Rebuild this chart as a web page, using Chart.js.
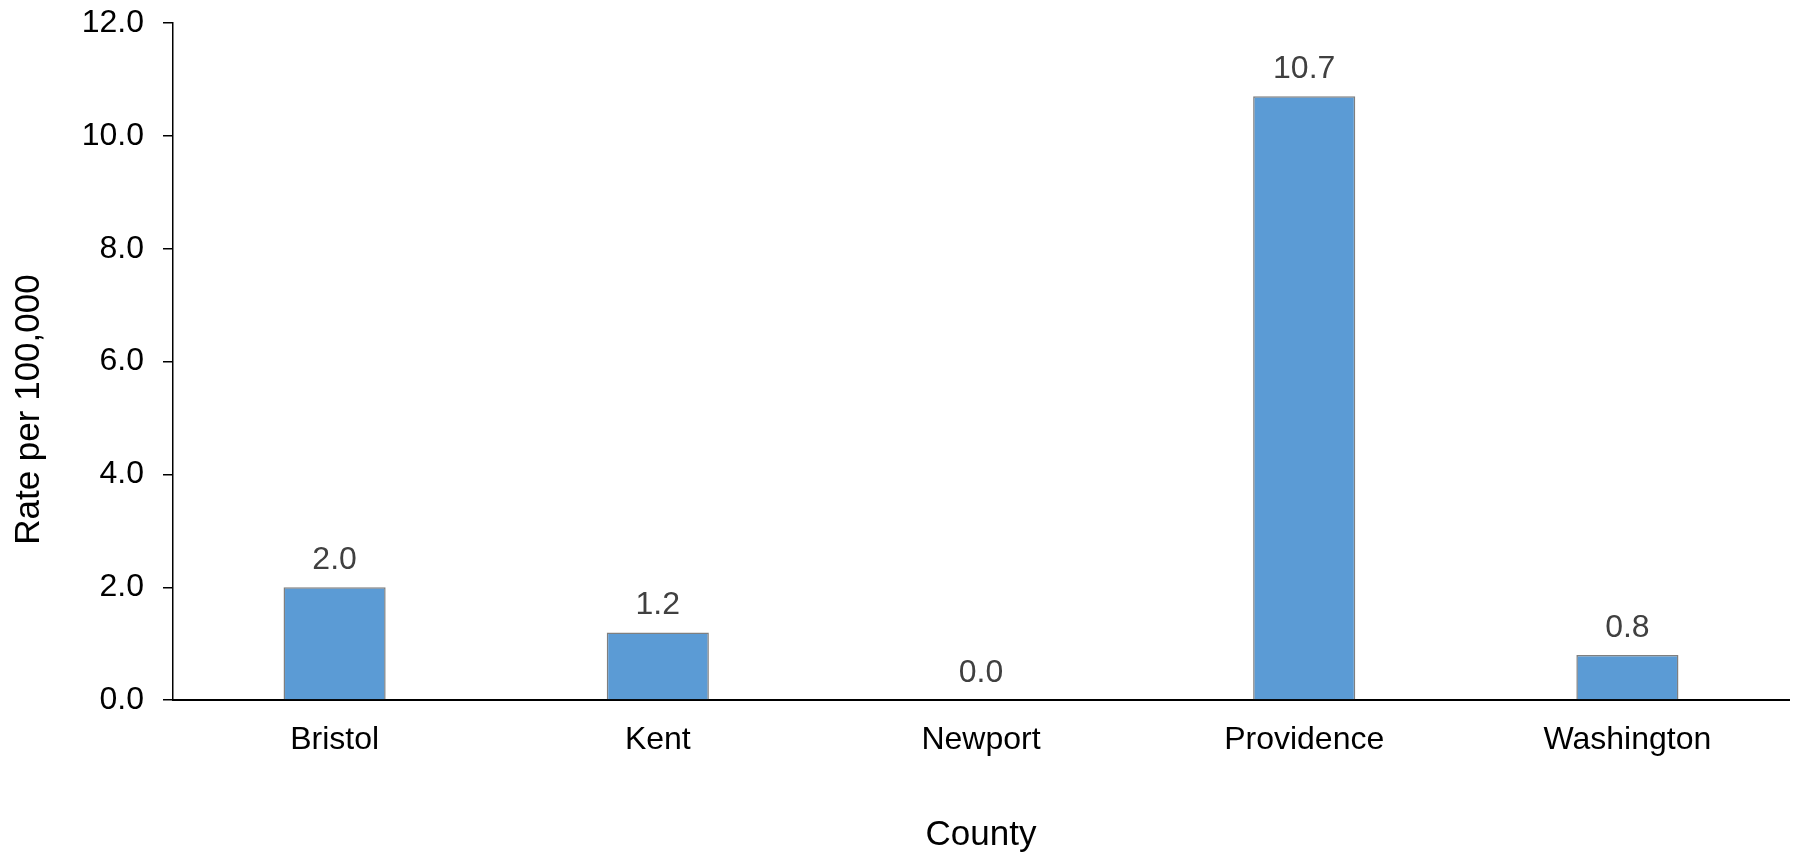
<!DOCTYPE html>
<html lang="en">
<head>
    <meta charset="UTF-8">
    <title>Rate per 100,000 by County</title>
    <script src="https://cdn.jsdelivr.net/npm/chart.js"></script>
    <style>
        body {
            margin: 0;
            padding: 0;
            background-color: #fff;
        }
        #chart {
            display: block;
        }
    </style>
</head>
<body>
    <canvas id="chart" width="1796" height="856"></canvas>

    <script>
        // Data
        const counties = ['Bristol', 'Kent', 'Newport', 'Providence', 'Washington'];
        const rates = [2.0, 1.2, 0.0, 10.7, 0.8];
        const yTicks = [0, 2, 4, 6, 8, 10, 12];

        const fontFamily = "'Liberation Sans', Arial, sans-serif";

        // Draws the value above each bar and the y axis title
        const labelsPlugin = {
            id: 'valueLabels',
            afterDatasetsDraw(chart) {
                const ctx = chart.ctx;
                const meta = chart.getDatasetMeta(0);
                ctx.save();
                ctx.font = '32px ' + fontFamily;
                ctx.fillStyle = '#404040';
                ctx.textAlign = 'center';
                ctx.textBaseline = 'alphabetic';
                meta.data.forEach((bar, i) => {
                    ctx.fillText(rates[i].toFixed(1), bar.x, bar.y - 18);
                });

                // y axis title, sits a little below the plot centre like the original
                const area = chart.chartArea;
                ctx.font = '35px ' + fontFamily;
                ctx.fillStyle = '#000';
                ctx.textBaseline = 'middle';
                ctx.translate(29, (area.top + area.bottom) / 2 + 48);
                ctx.rotate(-Math.PI / 2);
                ctx.fillText('Rate per 100,000', 0, 0);
                ctx.restore();
            }
        };

        new Chart(document.getElementById('chart'), {
            type: 'bar',
            data: {
                labels: counties,
                datasets: [{
                    data: rates,
                    backgroundColor: '#5b9bd5',
                    borderColor: '#7f7f7f',
                    borderWidth: 1.5,
                    categoryPercentage: 1.0,
                    barPercentage: 0.316
                }]
            },
            options: {
                responsive: false,
                animation: false,
                layout: {
                    padding: { top: 23, right: 7, left: 0, bottom: 0 }
                },
                plugins: {
                    legend: { display: false },
                    tooltip: { enabled: false }
                },
                scales: {
                    x: {
                        grid: { display: false, drawTicks: false },
                        border: { display: true, color: '#000', width: 2 },
                        ticks: {
                            color: '#000',
                            padding: 21,
                            font: { family: fontFamily, size: 32 }
                        },
                        title: {
                            display: true,
                            text: 'County',
                            color: '#000',
                            padding: { top: 33.5, bottom: 0 },
                            font: { family: fontFamily, size: 35 }
                        }
                    },
                    y: {
                        min: 0,
                        max: 12,
                        afterFit(scale) {
                            scale.width = 173;
                            scale.paddingTop = 0;
                            scale.paddingBottom = 0;
                        },
                        afterBuildTicks(scale) {
                            scale.ticks = yTicks.map(v => ({ value: v }));
                        },
                        grid: {
                            drawOnChartArea: false,
                            drawTicks: true,
                            tickLength: 10,
                            color: '#000',
                            lineWidth: 1.5
                        },
                        border: { display: true, color: '#000', width: 1.5 },
                        ticks: {
                            color: '#000',
                            padding: 19,
                            font: { family: fontFamily, size: 32 },
                            callback: value => value.toFixed(1)
                        }
                    }
                }
            },
            plugins: [labelsPlugin]
        });
    </script>
</body>
</html>
